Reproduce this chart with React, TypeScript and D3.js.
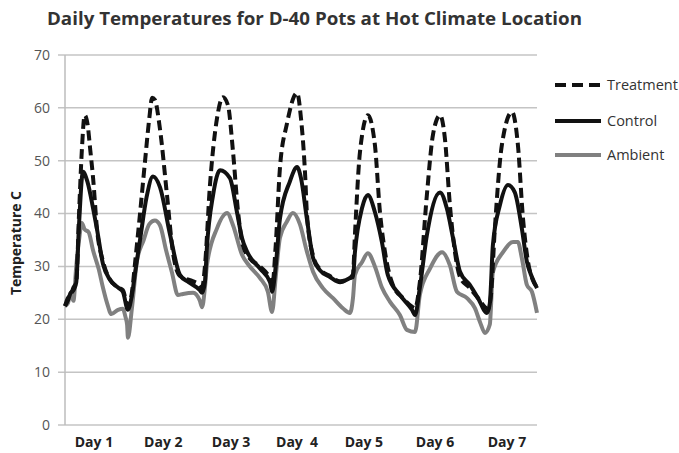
import React from "react";
import * as d3 from "d3";

const WIDTH = 679;
const HEIGHT = 453;
const MARGIN = { top: 55, right: 142, bottom: 28, left: 65 };

const TITLE = "Daily Temperatures for D-40 Pots at Hot Climate Location";
const Y_LABEL = "Temperature C";
const Y_TICKS = [0, 10, 20, 30, 40, 50, 60, 70];
const DAY_LABELS = ["Day 1", "Day 2", "Day 3", "Day  4", "Day 5", "Day 6", "Day 7"];
const DAY_LABEL_HOURS = [10.3, 35, 59.1, 82.6, 106.4, 131.7, 157.3];

// [hour, temperature C]
const TREATMENT: [number, number][] = [
  [0, 22.5], [1, 24], [2, 24.5], [3, 26], [4, 27], [5, 40], [6, 52], [7, 58.6], [8, 57],
  [9, 52], [10, 46.7], [11.4, 37], [13.5, 31], [16, 27.5], [18.9, 26], [20.6, 25.5],
  [22.4, 22.5], [23.8, 25], [25, 31], [26.7, 40], [28.5, 50], [30, 58], [31, 61.9],
  [32, 61.5], [33.8, 56], [36.3, 43.5], [38.4, 32.7], [40.9, 28.2], [45.6, 27.2],
  [48, 26.5], [48.8, 26], [49.8, 30], [51.6, 45.4], [54.1, 58], [56.2, 62], [58, 60.5],
  [59.8, 51.7], [61.6, 40.3], [63.3, 34], [65.8, 31.5], [69.4, 30], [73, 27.5],
  [73.7, 26], [75, 34], [76.5, 48.6], [79, 57], [82.6, 62.8], [84, 58], [85.5, 47],
  [86.1, 40], [88.3, 32], [90.7, 29.5], [94.3, 28.2], [97.9, 27.2], [101.4, 27.8],
  [102.5, 28.5], [103.2, 36], [105, 51.7], [107.8, 58.6], [110.3, 53], [112.1, 40.3],
  [113.9, 32.7], [116.7, 26.5], [120.3, 24], [123.8, 22.3], [124.6, 22.1], [126.3, 27],
  [128.8, 43.5], [131, 55], [133.5, 58.6], [135.2, 54.3], [137, 41.6], [138.8, 32.7],
  [140.6, 28], [144.1, 25.9], [147, 24], [150.5, 22], [151.5, 24], [153, 37.2],
  [155.5, 53], [159.1, 59.2], [161.2, 53], [163, 39.2], [164.8, 30.9], [166.5, 27.4],
  [168, 26.1],
];

const CONTROL: [number, number][] = [
  [0, 22.5], [1, 23.5], [2, 25], [3, 25.5], [4, 27], [5, 38], [6.4, 47.9], [8, 46],
  [10, 41], [11.4, 37], [13.5, 30.5], [16, 27.5], [18.9, 26], [20.6, 25.2], [22.4, 21.8],
  [23.8, 24.5], [25, 29], [26.7, 35], [29, 43], [31.3, 47], [33.8, 45], [37.4, 36],
  [40.9, 28.4], [44, 27], [48, 25.5], [48.8, 25], [49.8, 27], [50.5, 33.5], [52.7, 43.5],
  [55.2, 48.2], [58.7, 46.7], [61.2, 40.3], [63, 35.4], [64.8, 32.8], [69.4, 29.6],
  [73, 27], [73.7, 25.2], [75, 30], [76.5, 39], [80, 46], [82.6, 48.8], [84, 46.7],
  [86.1, 39], [88.3, 31.6], [90.7, 29.3], [94.3, 28], [97.9, 27], [101.4, 27.8],
  [102.5, 28], [103.2, 32.7], [105.7, 41], [107.8, 43.5], [110.3, 40.3], [112.8, 34.6],
  [114.9, 28.4], [119.2, 24.6], [123.5, 21.8], [124.6, 20.8], [126.3, 26], [128.8, 35.9],
  [133.5, 44], [135.9, 41], [138.1, 35.4], [140.6, 29], [144.1, 26.5], [147, 24],
  [150.2, 21.2], [151.2, 23], [152.3, 34], [154.8, 41.6], [157.7, 45.4], [160.1, 44],
  [162.6, 37.2], [164.4, 30.9], [166.2, 28], [168, 25.9],
];

const AMBIENT: [number, number][] = [
  [0, 22.5], [1, 23], [2, 25], [3, 23.5], [4, 30], [5, 35], [6, 38.2], [7, 37],
  [8.4, 36.5], [10, 33], [12, 29.5], [13.5, 26], [15, 23], [16.5, 21], [18.9, 21.8],
  [20.6, 22], [21.5, 20.5], [22.1, 19], [22.4, 16.5], [23.8, 22], [25.6, 31], [28, 35],
  [30, 38], [32, 38.7], [33.8, 37.8], [36, 33], [38, 29], [40.2, 24.6], [42, 24.8],
  [45.6, 25], [48, 23.5], [48.8, 22.3], [49.8, 26], [50.5, 30.2], [54.1, 37.2],
  [57.7, 40.1], [59.8, 37.8], [63, 32.2], [65.8, 30], [69.4, 27.8], [72.2, 25.2],
  [73.7, 21.4], [75, 28], [76.5, 35.4], [79, 38.5], [81.1, 40.1], [83.6, 38], [86, 33],
  [88.3, 29], [91.8, 25.9], [95.4, 24], [98.9, 22.1], [101.4, 21.2], [102.5, 24],
  [103.2, 28.4], [105.7, 30.8], [107.8, 32.5], [110.3, 30], [112.8, 26], [115.7, 23.3],
  [119.2, 20.8], [121.7, 18], [124.6, 17.6], [126.3, 24.6], [129.9, 29.6], [134.2, 32.7],
  [137, 30.2], [139.5, 25.2], [143.1, 24], [145.9, 22.1], [147.7, 19.5], [149.5, 17.4],
  [151.2, 19], [152.3, 28.9], [155.9, 32.7], [159.5, 34.6], [161.2, 34.6], [162.6, 31.6],
  [164.4, 26.5], [166.2, 25.2], [168, 21.2],
];

const SERIES = [
  { name: "Treatment", data: TREATMENT, color: "#111", dash: "10,5" },
  { name: "Control", data: CONTROL, color: "#111", dash: null },
  { name: "Ambient", data: AMBIENT, color: "#808080", dash: null },
];

const FONT = "'Open Sans', 'DejaVu Sans', sans-serif";

export default function App() {
  const x = d3
    .scaleLinear()
    .domain([0, 168])
    .range([MARGIN.left, WIDTH - MARGIN.right]);
  const y = d3
    .scaleLinear()
    .domain([0, 70])
    .range([HEIGHT - MARGIN.bottom, MARGIN.top]);

  const line = d3
    .line<[number, number]>()
    .x((d) => x(d[0]))
    .y((d) => y(d[1]))
    .curve(d3.curveMonotoneX);

  const legendX = 555;
  const legendY = [85, 121, 155];

  return (
    <svg
      width={WIDTH}
      height={HEIGHT}
      style={{ position: "absolute", left: 0, top: 0, background: "#fff" }}
    >
      <text
        x={47}
        y={25}
        textLength={535}
        lengthAdjust="spacingAndGlyphs"
        style={{ fontFamily: FONT, fontWeight: 700, fontSize: 17, fill: "#333" }}
      >
        {TITLE}
      </text>

      {/* grid + y ticks */}
      {Y_TICKS.map((t) => (
        <g key={t}>
          <line
            x1={58}
            x2={x.range()[1]}
            y1={y(t)}
            y2={y(t)}
            stroke="#c4c4c4"
            strokeWidth={1.5}
          />
          <text
            x={50}
            y={y(t)}
            dy="0.35em"
            textAnchor="end"
            style={{ fontFamily: FONT, fontSize: 14, fill: "#555" }}
          >
            {t}
          </text>
        </g>
      ))}
      <line
        x1={MARGIN.left}
        x2={MARGIN.left}
        y1={y(70)}
        y2={y(0)}
        stroke="#bdbdbd"
        strokeWidth={1.5}
      />

      <text
        transform={`translate(16, 243) rotate(-90)`}
        dy="0.35em"
        textAnchor="middle"
        textLength={104}
        lengthAdjust="spacingAndGlyphs"
        style={{ fontFamily: FONT, fontWeight: 700, fontSize: 14, fill: "#222" }}
      >
        {Y_LABEL}
      </text>

      {DAY_LABELS.map((d, i) => (
        <text
          key={d}
          x={x(DAY_LABEL_HOURS[i])}
          y={447}
          textAnchor="middle"
          style={{
            fontFamily: FONT,
            fontWeight: 700,
            fontSize: 14,
            fill: "#222",
            whiteSpace: "pre",
          }}
        >
          {d}
        </text>
      ))}

      {/* series, ambient drawn first */}
      {[...SERIES].reverse().map((s) => (
        <path
          key={s.name}
          d={line(s.data) || ""}
          fill="none"
          stroke={s.color}
          strokeWidth={4}
          strokeDasharray={s.dash || undefined}
          strokeLinejoin="round"
        />
      ))}

      {/* legend */}
      {SERIES.map((s, i) => (
        <g key={s.name}>
          <line
            x1={legendX}
            x2={legendX + 46}
            y1={legendY[i]}
            y2={legendY[i]}
            stroke={s.color}
            strokeWidth={4}
            strokeDasharray={s.dash ? "11,6" : undefined}
          />
          <text
            x={legendX + 52}
            y={legendY[i]}
            dy="0.35em"
            style={{ fontFamily: FONT, fontSize: 14.5, fill: "#333" }}
          >
            {s.name}
          </text>
        </g>
      ))}
    </svg>
  );
}
